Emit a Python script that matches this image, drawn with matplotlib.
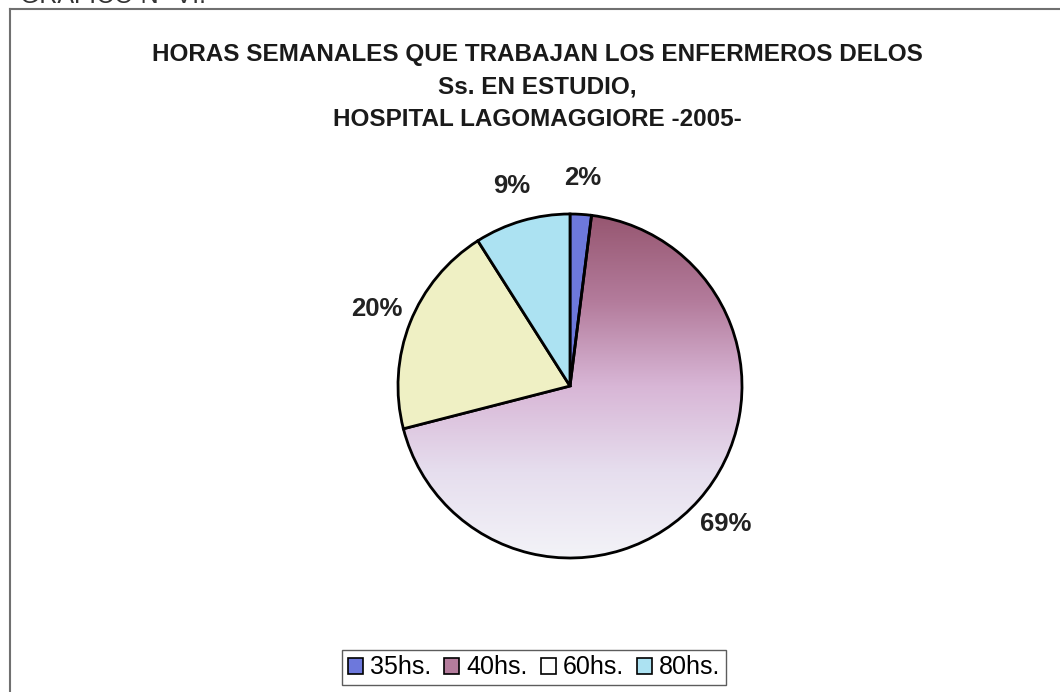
import numpy as np
import matplotlib
matplotlib.use("Agg")
import matplotlib.pyplot as plt
from matplotlib.patches import Patch
from matplotlib.colors import LinearSegmentedColormap

plt.rcParams['font.family'] = ['Liberation Sans', 'DejaVu Sans']

# data
categories = ["35hs.", "40hs.", "60hs.", "80hs."]
values = [2, 69, 20, 9]
pct_labels = ["2%", "69%", "20%", "9%"]
slice_colors = ["#6d78dc", "none", "#eff0c4", "#ace2f2"]
legend_colors = ["#6d78dc", "#b47c9c", "#ffffff", "#ace2f2"]

title_lines = ["HORAS SEMANALES QUE TRABAJAN LOS ENFERMEROS DELOS",
               "Ss. EN ESTUDIO,",
               "HOSPITAL LAGOMAGGIORE -2005-"]

W, H = 1060, 692
fig = plt.figure(figsize=(W / 100, H / 100), dpi=100)
fig.patch.set_facecolor("white")

# frame (left + top visible, the rest runs off the scan)
fig.add_artist(plt.Line2D([10 / W, 10 / W], [0, 1 - 9 / H], color="#707070", lw=1.5))
fig.add_artist(plt.Line2D([10 / W, 1], [1 - 9 / H, 1 - 9 / H], color="#707070", lw=1.5))
fig.text(20 / W, 1 - 3 / H, "GRAFICO N° VI.", fontsize=18, va="baseline", ha="left",
         color="#333333")

# title, one line at a time (centres at y = 55, 87, 119 px)
for i, line in enumerate(title_lines):
    fig.text(537 / W, 1 - (55 + 32 * i) / H, line, ha="center", va="center",
             fontsize=17.5, fontweight="bold", color="#1a1a1a")

# pie axes: centre (570, 386), radius 172 px
cx, cy, r = 570, 386, 172
ax = fig.add_axes([(cx - r) / W, (H - cy - r) / H, 2 * r / W, 2 * r / H])

wedges, texts = ax.pie(values, colors=slice_colors, startangle=90, counterclock=False,
                       radius=1, labels=pct_labels, labeldistance=1.21,
                       wedgeprops=dict(edgecolor="black", linewidth=2.0),
                       textprops=dict(fontsize=18.5, fontweight="bold", color="#222222"))
for t in texts:
    t.set_ha("center")
    t.set_va("center")
    t.set_clip_on(False)

# gradient fill for the 40hs slice (maroon at the top fading to white)
grad = LinearSegmentedColormap.from_list(
    "g40", ["#f3f3f8", "#e6deee", "#d8b6d6", "#b37b9b", "#965670"])
yy = np.linspace(0, 1, 256).reshape(-1, 1)
img = ax.imshow(yy, cmap=grad, extent=[-1, 1, -1, 1], origin="lower",
                aspect="auto", zorder=0.5)
img.set_clip_path(wedges[1])
wedges[1].set_zorder(1)
ax.set_xlim(-1, 1)
ax.set_ylim(-1, 1)
ax.set_aspect("equal")
ax.axis("off")

handles = [Patch(facecolor=c, edgecolor="black", linewidth=1.2) for c in legend_colors]
leg = fig.legend(handles, categories, loc="center", bbox_to_anchor=(534 / W, 1 - 667.5 / H),
                 ncol=4, fontsize=18, frameon=True, fancybox=False, handlelength=0.6,
                 handleheight=0.6, handletextpad=0.28, columnspacing=0.52, borderpad=0.22,
                 borderaxespad=0)
leg.get_frame().set_edgecolor("#333333")
leg.get_frame().set_linewidth(1.0)

fig.savefig("out.png", dpi=100)
